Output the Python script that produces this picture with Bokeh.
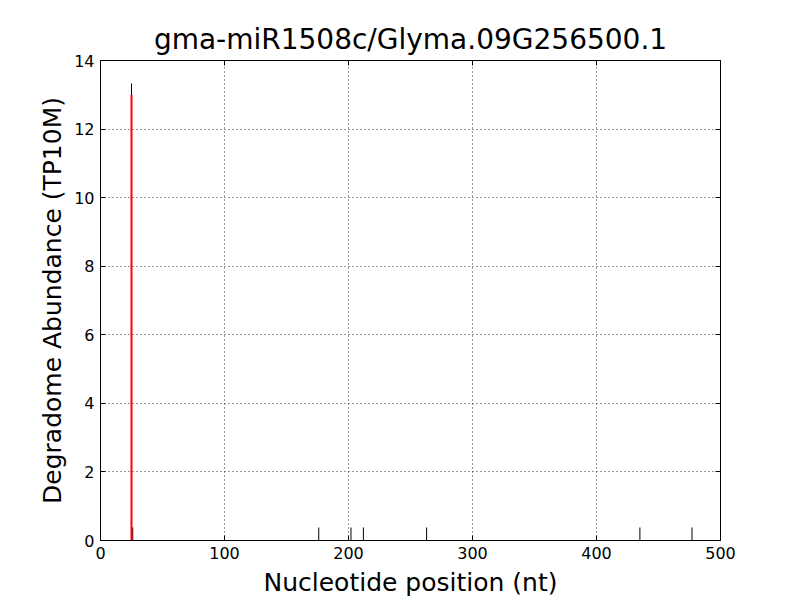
from bokeh.plotting import figure
from bokeh.models import Range1d, LinearAxis, SingleIntervalTicker, CustomJSTickFormatter
from bokeh.embed import file_html
from bokeh.resources import INLINE

# data
positions = [25, 26, 176, 202, 212, 263, 435, 477]
abundance = [13.33, 0.38, 0.38, 0.38, 0.38, 0.38, 0.38, 0.38]
cleave_pos = [25]
cleave_val = [13.0]
title_text = "gma-miR1508c/Glyma.09G256500.1"

FONT = "DejaVu Sans"

p = figure(width=800, height=600, output_backend="svg", toolbar_location=None,
           x_range=Range1d(0, 500), y_range=Range1d(0, 14),
           min_border_left=100, min_border_right=80, min_border_top=60, min_border_bottom=60,
           title=title_text)
p.title.align = "center"
p.title.text_font = FONT
p.title.text_font_size = "28px"
p.title.text_font_style = "normal"
p.title.text_color = "black"

p.outline_line_color = "black"
p.outline_line_width = 1
p.background_fill_color = "white"
p.border_fill_color = "white"

for g in (p.xgrid, p.ygrid):
    g.grid_line_color = "black"
    g.grid_line_dash = "1 3"
    g.grid_line_alpha = 0.8

p.xaxis.ticker = SingleIntervalTicker(interval=100)
p.yaxis.ticker = SingleIntervalTicker(interval=2)
p.xgrid.ticker = SingleIntervalTicker(interval=100)
p.ygrid.ticker = SingleIntervalTicker(interval=2)

p.xaxis.axis_label = "Nucleotide position (nt)"
p.yaxis.axis_label = "Degradome Abundance (TP10M)"
for ax in (p.xaxis[0], p.yaxis[0]):
    ax.axis_label_text_font = FONT
    ax.axis_label_text_font_size = "25px"
    ax.axis_label_text_font_style = "normal"
    ax.axis_label_text_color = "black"
    ax.major_label_text_font = FONT
    ax.major_label_text_font_size = "16px"
    ax.major_label_text_color = "black"
    ax.major_tick_in = 5
    ax.major_tick_out = 0
    ax.minor_tick_in = 0
    ax.minor_tick_out = 0
    ax.axis_line_color = None
    ax.major_tick_line_color = "black"
p.xaxis.major_label_standoff = 6
p.yaxis.major_label_standoff = 6
p.xaxis.axis_label_standoff = 6
p.yaxis.axis_label_standoff = 4

blank = CustomJSTickFormatter(code="return ''")
top = LinearAxis(ticker=SingleIntervalTicker(interval=100), formatter=blank,
                 major_tick_in=5, major_tick_out=0, minor_tick_in=0, minor_tick_out=0,
                 axis_line_color=None, major_label_standoff=0)
right = LinearAxis(ticker=SingleIntervalTicker(interval=2), formatter=blank,
                   major_tick_in=5, major_tick_out=0, minor_tick_in=0, minor_tick_out=0,
                   axis_line_color=None, major_label_standoff=0)
p.add_layout(top, "above")
p.add_layout(right, "right")

p.segment(x0=positions, y0=[0] * len(positions), x1=positions, y1=abundance,
          line_color="black", line_width=1)
p.segment(x0=cleave_pos, y0=[0], x1=cleave_pos, y1=cleave_val,
          line_color="red", line_width=2)

open("out.html", "w").write(file_html(p, INLINE))
